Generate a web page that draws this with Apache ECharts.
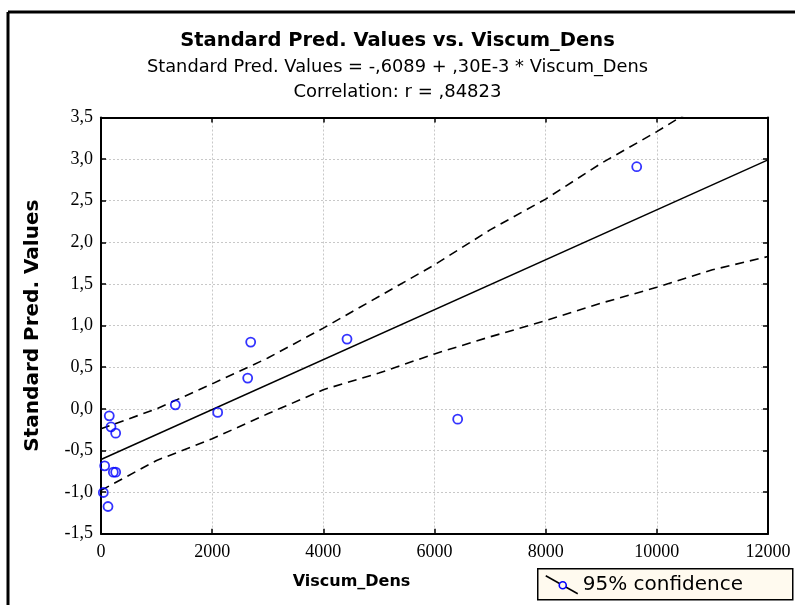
<!DOCTYPE html>
<html>
<head>
<meta charset="utf-8">
<script src="https://cdn.jsdelivr.net/npm/echarts@6/dist/echarts.min.js"></script>
<style>
html,body{margin:0;padding:0;background:#fff;}
#chart{width:795px;height:605px;}
</style>
</head>
<body>
<div id="chart"></div>
<script>
// ---- data ----
var titleText = 'Standard Pred. Values vs. Viscum_Dens';
var equationText = 'Standard Pred. Values = -,6089 + ,30E-3 * Viscum_Dens';
var correlationText = 'Correlation: r = ,84823';
var xName = 'Viscum_Dens';
var yName = 'Standard Pred. Values';
var legendLabel = '95% confidence';

var viscumDens = [149, 180, 264, 1337, 2099, 2639, 2693, 66, 222, 264, 42, 126, 4426, 6417, 9638];
var predValues = [-0.084, -0.216, -0.292, 0.048, -0.043, 0.369, 0.802, -0.685, -0.761, -0.761, -1.005, -1.173, 0.838, -0.124, 2.909];

var fitX = [0, 12000];
var fitY = [-0.6089, 2.9911];

var bandX = [0, 1000, 2000, 3000, 4000, 5000, 6000, 7000, 8000, 9000, 10000, 11000, 12000];
var upperY = [-0.24, 0.0, 0.30, 0.61, 0.97, 1.35, 1.73, 2.15, 2.52, 2.95, 3.33, 3.74, 4.12];
var lowerY = [-0.98, -0.62, -0.36, -0.06, 0.23, 0.43, 0.66, 0.865, 1.06, 1.27, 1.46, 1.67, 1.83];

var xTicks = {min: 0, max: 12000, interval: 2000};
var yTicks = {min: -1.5, max: 3.5, interval: 0.5};

// ---- build ----
function zip(a, b) { return a.map(function (v, i) { return [v, b[i]]; }); }

var serifFont = '"Liberation Serif", "DejaVu Serif", serif';
var sansFont = '"DejaVu Sans", Verdana, sans-serif';
var frameColor = '#000';

var chart = echarts.init(document.getElementById('chart'), null, {renderer: 'canvas'});

var commonTick = {show: true, inside: true, length: 5, lineStyle: {color: frameColor, width: 1.5}};

var option = {
  backgroundColor: '#ffffff',
  animation: false,
  title: [
    {text: titleText, left: 'center', top: 26, textStyle: {fontFamily: sansFont, fontWeight: 'bold', fontSize: 19.5, color: '#000'}},
    {text: equationText, left: 'center', top: 53, textStyle: {fontFamily: sansFont, fontWeight: 'normal', fontSize: 17.8, color: '#000'}},
    {text: correlationText, left: 'center', top: 78, textStyle: {fontFamily: sansFont, fontWeight: 'normal', fontSize: 18, color: '#000'}}
  ],
  grid: {left: 101, top: 117.5, right: 27, bottom: 71.3, containLabel: false},
  xAxis: [
    {
      type: 'value', min: xTicks.min, max: xTicks.max, interval: xTicks.interval,
      position: 'bottom',
      name: xName, nameLocation: 'middle', nameGap: 40,
      nameTextStyle: {fontFamily: sansFont, fontWeight: 'bold', fontSize: 16, color: '#000', padding: [0, 166, 0, 0]},
      axisLine: {show: true, onZero: false, lineStyle: {color: frameColor, width: 2}},
      axisTick: commonTick,
      axisLabel: {fontFamily: serifFont, fontSize: 18, color: '#000', margin: 10, showMaxLabel: true,
        formatter: function (v) { return String(v); }},
      splitLine: {show: true, lineStyle: {color: '#c8c8c8', type: [2, 2], width: 1}}
    },
    {
      type: 'value', min: xTicks.min, max: xTicks.max, interval: xTicks.interval,
      position: 'top',
      axisLine: {show: true, onZero: false, lineStyle: {color: frameColor, width: 2}},
      axisTick: commonTick,
      axisLabel: {show: false},
      splitLine: {show: false}
    }
  ],
  yAxis: [
    {
      type: 'value', min: yTicks.min, max: yTicks.max, interval: yTicks.interval,
      position: 'left',
      name: yName, nameLocation: 'middle', nameGap: 58, nameRotate: 90,
      nameTextStyle: {fontFamily: sansFont, fontWeight: 'bold', fontSize: 20, color: '#000'},
      axisLine: {show: true, onZero: false, lineStyle: {color: frameColor, width: 2}},
      axisTick: commonTick,
      axisLabel: {
        fontFamily: serifFont, fontSize: 18, color: '#000', margin: 8,
        formatter: function (v) { return v.toFixed(1).replace('.', ','); }
      },
      splitLine: {show: true, lineStyle: {color: '#c8c8c8', type: [2, 2], width: 1}}
    },
    {
      type: 'value', min: yTicks.min, max: yTicks.max, interval: yTicks.interval,
      position: 'right',
      axisLine: {show: true, onZero: false, lineStyle: {color: frameColor, width: 2}},
      axisTick: commonTick,
      axisLabel: {show: false},
      splitLine: {show: false}
    }
  ],
  series: [
    {
      name: 'upper', type: 'line', data: zip(bandX, upperY), symbol: 'none', clip: true,
      lineStyle: {color: '#000', width: 1.6, type: [9, 6]}, z: 2, silent: true
    },
    {
      name: 'lower', type: 'line', data: zip(bandX, lowerY), symbol: 'none', clip: true,
      lineStyle: {color: '#000', width: 1.6, type: [9, 6]}, z: 2, silent: true
    },
    {
      name: 'fit', type: 'line', data: zip(fitX, fitY), symbol: 'none', clip: true,
      lineStyle: {color: '#000', width: 1.5, type: 'solid'}, z: 3, silent: true
    },
    {
      name: 'points', type: 'scatter', data: zip(viscumDens, predValues),
      symbol: 'circle', symbolSize: 9,
      itemStyle: {color: 'rgba(255,255,255,0)', borderColor: '#0000ff', borderWidth: 1.8},
      z: 5
    }
  ],
  graphic: [
    {type: 'line', shape: {x1: 8, y1: 12, x2: 795, y2: 12}, style: {stroke: '#000', lineWidth: 3}, z: 10},
    {type: 'line', shape: {x1: 8, y1: 12, x2: 8, y2: 605}, style: {stroke: '#000', lineWidth: 3}, z: 10},
    {
      type: 'group', left: 537, top: 568, z: 10,
      children: [
        {type: 'rect', shape: {x: 0, y: 0, width: 255, height: 31}, style: {fill: '#fffaef', stroke: '#000', lineWidth: 1.5}},
        {type: 'line', shape: {x1: 8, y1: 7, x2: 40, y2: 25}, style: {stroke: '#000', lineWidth: 1.5}},
        {type: 'circle', shape: {cx: 25, cy: 16.5, r: 3.5}, style: {fill: '#fffaef', stroke: '#0000ff', lineWidth: 1.6}},
        {type: 'text', x: 45, y: 16, style: {text: legendLabel, font: '20px "DejaVu Sans", Verdana, sans-serif', fill: '#000', textVerticalAlign: 'middle', verticalAlign: 'middle'}}
      ]
    }
  ]
};
chart.setOption(option);
</script>
</body>
</html>
